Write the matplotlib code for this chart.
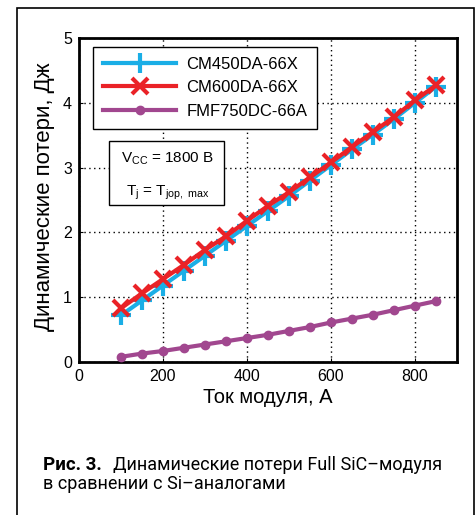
import matplotlib
matplotlib.use('Agg')
import matplotlib.pyplot as plt
from matplotlib.patches import Rectangle

plt.rcParams['font.family'] = ['Liberation Sans', 'DejaVu Sans']

current = [100, 150, 200, 250, 300, 350, 400, 450, 500, 550, 600, 650, 700, 750, 800, 850]
cm450 = [0.72, 0.95, 1.18, 1.41, 1.64, 1.87, 2.10, 2.33, 2.56, 2.80, 3.04, 3.28, 3.51, 3.75, 4.00, 4.25]
cm600 = [0.83, 1.06, 1.28, 1.50, 1.73, 1.94, 2.18, 2.41, 2.62, 2.85, 3.08, 3.32, 3.55, 3.78, 4.04, 4.27]
fmf750 = [0.08, 0.13, 0.17, 0.22, 0.27, 0.32, 0.37, 0.42, 0.48, 0.54, 0.61, 0.67, 0.73, 0.80, 0.87, 0.94]
names = ['CM450DA-66X', 'CM600DA-66X', 'FMF750DC-66A']
x_ticks = [0, 200, 400, 600, 800]
y_ticks = [0, 1, 2, 3, 4, 5]

W, H = 477, 515
fig = plt.figure(figsize=(W / 100, H / 100), dpi=100)
ax = fig.add_axes([79 / W, 1 - 362 / H, (457 - 79) / W, (362 - 38) / H])

ax.plot(current, cm450, color='#1aaee6', lw=3, marker='+', ms=15, mew=3, label=names[0], zorder=3)
ax.plot(current, cm600, color='#ea2227', lw=3, marker='x', ms=11, mew=3, label=names[1], zorder=4)
ax.plot(current, fmf750, color='#a1478f', lw=3, marker='o', ms=6, label=names[2], zorder=3)

ax.set_xlim(0, 900)
ax.set_ylim(0, 5)
ax.set_xticks(x_ticks)
ax.set_yticks(y_ticks)
ax.grid(True, color='black', linestyle=(0, (1, 2.5)), lw=1)
ax.tick_params(direction='in', length=3, labelsize=11.5, pad=5)
for s in ax.spines.values():
    s.set_linewidth(2)
ax.set_xlabel('Ток модуля, А', fontsize=14.5, labelpad=3)
ax.set_ylabel('Динамические потери, Дж', fontsize=16)
ax.yaxis.set_label_coords(-0.063, 0.51)

leg = ax.legend(loc='upper left', bbox_to_anchor=(14 / 378, 1 - 9 / 324), fontsize=12,
                handlelength=4.4, handletextpad=0.6, borderpad=0.6, labelspacing=0.5,
                fancybox=False, framealpha=1, edgecolor='black', borderaxespad=0)
leg.get_frame().set_linewidth(1)

# condition box
ax.add_patch(Rectangle((30 / 378, 157 / 324), 115 / 378, 64 / 324, transform=ax.transAxes,
                       facecolor='white', edgecolor='black', lw=1, zorder=5))
ax.text(0.235, 0.627, '$\\mathregular{V_{CC}}$ = 1800 В', fontsize=11, ha='center', va='center',
        transform=ax.transAxes, zorder=6)
ax.text(0.235, 0.522, '$\\mathregular{T_j}$ = $\\mathregular{T_{jop,\\ max}}$', fontsize=11,
        ha='center', va='center', transform=ax.transAxes, zorder=6)

fig.patches.append(Rectangle((17 / W, -0.05), (474 - 17) / W, 1.05 - 8 / H, transform=fig.transFigure,
                             fill=False, edgecolor='black', lw=1.2))

fig.text(43 / W, 1 - 465 / H, 'Рис. 3.', fontsize=13.5, fontweight='bold', family='Roboto', va='center')
fig.text(113 / W, 1 - 465 / H, 'Динамические потери Full SiC–модуля', fontsize=13, family='Roboto', va='center')
fig.text(43 / W, 1 - 484 / H, 'в сравнении с Si–аналогами', fontsize=13, family='Roboto', va='center')

fig.savefig('out.png', dpi=100)
